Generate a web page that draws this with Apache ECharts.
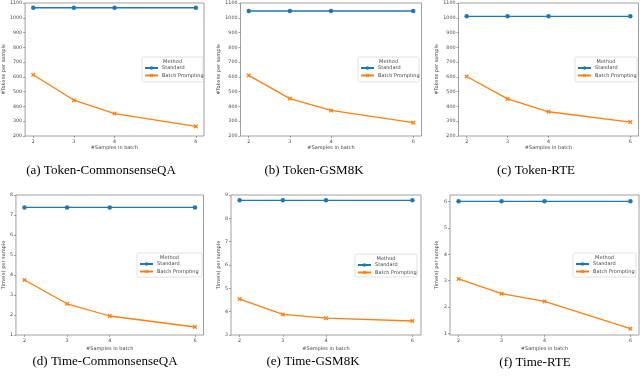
<!DOCTYPE html>
<html>
<head>
<meta charset="utf-8">
<script src="https://cdn.jsdelivr.net/npm/echarts@6/dist/echarts.min.js"></script>
<style>
  html, body { margin: 0; padding: 0; background: #fff; }
  #chart { width: 640px; height: 378px; }
</style>
</head>
<body>
<div id="chart"></div>
<script>
// values
const samples = [2, 3, 4, 6]
const tokenTicks = [200, 300, 400, 500, 600, 700, 800, 900, 1000, 1100]
const timeTicksCSQA = [1, 2, 3, 4, 5, 6, 7, 8]
const timeTicksGSM = [3, 4, 5, 6, 7, 8, 9]
const timeTicksRTE = [1, 2, 3, 4, 5, 6]

const tokenCsqaStandard = [1068, 1068, 1068, 1068]
const tokenCsqaBatch = [614, 442, 352, 265]
const tokenGsmStandard = [1046, 1046, 1046, 1046]
const tokenGsmBatch = [610, 453, 373, 290]
const tokenRteStandard = [1010, 1010, 1010, 1010]
const tokenRteBatch = [603, 451, 364, 294]
const timeCsqaStandard = [7.38, 7.38, 7.38, 7.38]
const timeCsqaBatch = [3.75, 2.56, 1.95, 1.4]
const timeGsmStandard = [8.77, 8.77, 8.77, 8.77]
const timeGsmBatch = [4.54, 3.88, 3.72, 3.6]
const timeRteStandard = [6.0, 6.0, 6.0, 6.0]
const timeRteBatch = [3.07, 2.51, 2.22, 1.19]

const blue = '#1f77b4'
const orange = '#ff7f0e'
const xMark = 'path://M2,0L5,3L8,0L10,2L7,5L10,8L8,10L5,7L2,10L0,8L3,5L0,2Z'

const panels = [
  { caption: '(a) Token-CommonsenseQA', yName: '#Tokens per sample', std: tokenCsqaStandard, batch: tokenCsqaBatch, ticks: tokenTicks, min: 200, max: 1100,
    grid: [23.5, 3, 180.5, 133], nameGap: 18, xGap: 9.5, legend: [142, 57, 61, 25], capX: 101, capY: 171 },
  { caption: '(b) Token-GSM8K', yName: '#Tokens per sample', std: tokenGsmStandard, batch: tokenGsmBatch, ticks: tokenTicks, min: 200, max: 1100,
    grid: [240.5, 3, 181, 133], nameGap: 18, xGap: 9.5, legend: [358, 57, 61, 25], capX: 314, capY: 171 },
  { caption: '(c) Token-RTE', yName: '#Tokens per sample', std: tokenRteStandard, batch: tokenRteBatch, ticks: tokenTicks, min: 200, max: 1100,
    grid: [458.5, 3, 180, 133], nameGap: 18, xGap: 9.5, legend: [575, 57, 62, 25], capX: 536, capY: 171 },
  { caption: '(d) Time-CommonsenseQA', yName: 'Time(s) per sample', std: timeCsqaStandard, batch: timeCsqaBatch, ticks: timeTicksCSQA, min: 1, max: 8,
    grid: [14.5, 195, 189, 140], nameGap: 9.5, xGap: 11.5, legend: [137, 253, 65, 24], capX: 105, capY: 362 },
  { caption: '(e) Time-GSM8K', yName: 'Time(s) per sample', std: timeGsmStandard, batch: timeGsmBatch, ticks: timeTicksGSM, min: 3, max: 9,
    grid: [231, 195, 190, 140], nameGap: 9.5, xGap: 11.5, legend: [355, 254, 62, 23], capX: 313, capY: 362 },
  { caption: '(f) Time-RTE', yName: 'Time(s) per sample', std: timeRteStandard, batch: timeRteBatch, ticks: timeTicksRTE, min: 0.95, max: 6.24,
    grid: [450, 195, 189, 140], nameGap: 10.5, xGap: 11.5, legend: [573, 253, 63, 24], capX: 535, capY: 363 }
]

let grids = []
let xAxes = []
let yAxes = []
let series = []
let legends = []
let graphics = []

panels.forEach((p, i) => {
  grids.push({
    left: p.grid[0], top: p.grid[1], width: p.grid[2], height: p.grid[3],
    show: true, borderColor: '#888', borderWidth: 0.8, backgroundColor: 'transparent'
  })
  xAxes.push({
    type: 'value', gridIndex: i, min: 1.8, max: 6.2,
    name: '#Samples in batch', nameLocation: 'middle', nameGap: p.xGap,
    nameTextStyle: { fontSize: 5, color: '#444', fontFamily: 'DejaVu Sans' },
    splitLine: { show: false },
    axisLine: { show: false },
    axisTick: { show: true, length: 2, customValues: samples, lineStyle: { color: '#666', width: 0.6 } },
    axisLabel: { customValues: samples, fontSize: 4.8, margin: 3, color: '#444', fontFamily: 'DejaVu Sans', formatter: v => String(v) }
  })
  yAxes.push({
    type: 'value', gridIndex: i, min: p.min, max: p.max,
    name: p.yName, nameLocation: 'middle', nameGap: p.nameGap, nameRotate: 90,
    nameTextStyle: { fontSize: 5, color: '#444', fontFamily: 'DejaVu Sans' },
    splitLine: { show: false },
    axisLine: { show: false },
    axisTick: { show: true, length: 2, customValues: p.ticks, lineStyle: { color: '#666', width: 0.6 } },
    axisLabel: { customValues: p.ticks, fontSize: 4.8, margin: 3, color: '#444', fontFamily: 'DejaVu Sans', formatter: v => String(v) }
  })
  series.push({
    name: 'Standard', type: 'line', xAxisIndex: i, yAxisIndex: i,
    data: samples.map((s, j) => [s, p.std[j]]),
    symbol: 'circle', symbolSize: 4.5, color: blue,
    lineStyle: { width: 1.3, color: blue }, itemStyle: { color: blue }
  })
  series.push({
    name: 'Batch Prompting', type: 'line', xAxisIndex: i, yAxisIndex: i,
    data: samples.map((s, j) => [s, p.batch[j]]),
    symbol: xMark, symbolSize: 4.5, color: orange,
    lineStyle: { width: 1.3, color: orange }, itemStyle: { color: orange }
  })
  let b = p.legend
  graphics.push({
    type: 'rect', z: 3,
    shape: { x: b[0], y: b[1], width: b[2], height: b[3], r: 1.5 },
    style: { fill: '#fff', stroke: '#d4d4d4', lineWidth: 0.7 }
  })
  graphics.push({
    type: 'text', z: 5, x: b[0] + b[2] / 2, y: b[1] + 4.5,
    style: { text: 'Method', fontSize: 5, fill: '#444', fontFamily: 'DejaVu Sans', align: 'center', verticalAlign: 'middle' }
  })
  legends.push({
    data: ['Standard', 'Batch Prompting'],
    orient: 'vertical', left: b[0] + 2, top: b[1] + 8.5,
    itemWidth: 13, itemHeight: 4.5, itemGap: 2.5, padding: 0, z: 6,
    textStyle: { fontSize: 5, color: '#444', fontFamily: 'DejaVu Sans', padding: [0, 0, 0, -1] },
    selectedMode: false
  })
  graphics.push({
    type: 'text', x: p.capX, y: p.capY,
    style: { text: p.caption, fontSize: 13, fill: '#000', fontFamily: 'Liberation Serif', align: 'center', verticalAlign: 'middle' }
  })
})

let myChart = echarts.init(document.getElementById('chart'), null, { renderer: 'canvas' })
let option = {
  animation: false,
  backgroundColor: '#fff',
  grid: grids,
  xAxis: xAxes,
  yAxis: yAxes,
  legend: legends,
  series: series,
  graphic: graphics
}
myChart.setOption(option)
</script>
</body>
</html>
